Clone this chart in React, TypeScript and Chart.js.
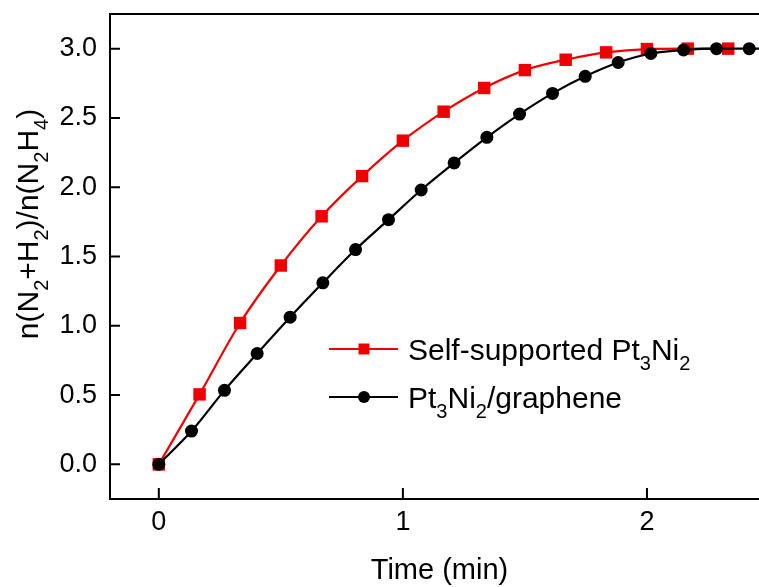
import React, { useEffect, useRef } from 'react';
import { Chart, registerables } from 'chart.js';

Chart.register(...registerables);

// ---- data ----
const redX = [0, 0.167, 0.333, 0.5, 0.667, 0.833, 1.0, 1.167, 1.333, 1.5, 1.667, 1.833, 2.0, 2.167, 2.333];
const redY = [0, 0.505, 1.02, 1.435, 1.79, 2.08, 2.336, 2.545, 2.716, 2.845, 2.92, 2.973, 2.997, 3.0, 3.0];

const blackX = [0, 0.134, 0.269, 0.403, 0.538, 0.672, 0.806, 0.941, 1.075, 1.21, 1.344, 1.478, 1.613, 1.747, 1.882, 2.016, 2.15, 2.285, 2.419, 2.553];
const blackY = [0, 0.24, 0.534, 0.8, 1.062, 1.31, 1.55, 1.766, 1.98, 2.175, 2.36, 2.528, 2.677, 2.8, 2.9, 2.965, 2.99, 3.0, 3.0, 3.0];

const xTicks = [0, 1, 2];
const yTicks = [0, 0.5, 1.0, 1.5, 2.0, 2.5, 3.0];

const xTitle = 'Time (min)';
// rich text: [text, isSubscript]
const yTitle: [string, boolean][] = [
  ['n(N', false], ['2', true], ['+H', false], ['2', true], [')/n(N', false], ['2', true], ['H', false], ['4', true], [')', false],
];
const redLabel: [string, boolean][] = [['Self-supported Pt', false], ['3', true], ['Ni', false], ['2', true]];
const blackLabel: [string, boolean][] = [['Pt', false], ['3', true], ['Ni', false], ['2', true], ['/graphene', false]];

const FONT = '"Liberation Sans", Arial, Helvetica, sans-serif';
const RED = '#ee0000';
const BLACK = '#000000';

function richWidth(ctx: CanvasRenderingContext2D, segs: [string, boolean][], size: number) {
  let w = 0;
  for (const [t, sub] of segs) {
    ctx.font = `${sub ? Math.round(size * 0.65) : size}px ${FONT}`;
    w += ctx.measureText(t).width;
  }
  return w;
}

function drawRich(ctx: CanvasRenderingContext2D, segs: [string, boolean][], x: number, y: number, size: number) {
  let cx = x;
  ctx.textBaseline = 'alphabetic';
  ctx.textAlign = 'left';
  for (const [t, sub] of segs) {
    ctx.font = `${sub ? Math.round(size * 0.65) : size}px ${FONT}`;
    ctx.fillText(t, cx, sub ? y + size * 0.33 : y);
    cx += ctx.measureText(t).width;
  }
}

const decor = {
  id: 'decor',
  afterDraw(chart: any) {
    const ctx: CanvasRenderingContext2D = chart.ctx;
    const { left, top, right, bottom } = chart.chartArea;
    const xs = chart.scales.x;
    const ys = chart.scales.y;
    ctx.save();
    ctx.strokeStyle = '#000';
    ctx.lineWidth = 2;
    ctx.beginPath();
    ctx.rect(left, top, right - left, bottom - top);
    for (const v of yTicks) {
      const y = ys.getPixelForValue(v);
      ctx.moveTo(left, y);
      ctx.lineTo(left + 10, y);
    }
    for (const v of xTicks) {
      const x = xs.getPixelForValue(v);
      ctx.moveTo(x, bottom);
      ctx.lineTo(x, bottom - 11);
    }
    ctx.stroke();

    ctx.fillStyle = '#000';
    // x title
    ctx.font = `29px ${FONT}`;
    ctx.textAlign = 'center';
    ctx.textBaseline = 'alphabetic';
    ctx.fillText(xTitle, (left + right) / 2, 579);

    // y title
    const ySize = 30;
    const yw = richWidth(ctx, yTitle, ySize);
    ctx.save();
    ctx.translate(38, 224);
    ctx.rotate(-Math.PI / 2);
    drawRich(ctx, yTitle, -yw / 2, 0, ySize);
    ctx.restore();

    // legend
    const lx0 = 329, lx1 = 398, mx = 364, tx = 408;
    const rows: { y: number; color: string; shape: string; label: [string, boolean][] }[] = [
      { y: 349, color: RED, shape: 'rect', label: redLabel },
      { y: 397, color: BLACK, shape: 'circle', label: blackLabel },
    ];
    for (const r of rows) {
      ctx.strokeStyle = r.color;
      ctx.fillStyle = r.color;
      ctx.lineWidth = 2;
      ctx.beginPath();
      ctx.moveTo(lx0, r.y);
      ctx.lineTo(lx1, r.y);
      ctx.stroke();
      ctx.beginPath();
      if (r.shape === 'rect') {
        ctx.rect(mx - 5.5, r.y - 5.5, 11, 11);
      } else {
        ctx.arc(mx, r.y, 6, 0, Math.PI * 2);
      }
      ctx.fill();
      ctx.fillStyle = '#000';
      drawRich(ctx, r.label, tx, r.y + 11, 30);
    }
    ctx.restore();
  },
};

export default function App() {
  const ref = useRef<HTMLCanvasElement | null>(null);
  useEffect(() => {
    if (!ref.current) return;
    const chart = new Chart(ref.current, {
      type: 'line',
      data: {
        datasets: [
          {
            label: 'Self-supported Pt3Ni2',
            data: redX.map((x, i) => ({ x, y: redY[i] })),
            borderColor: RED,
            backgroundColor: RED,
            borderWidth: 2.2,
            pointStyle: 'rect',
            pointRadius: 8.8,
            pointHoverRadius: 8.8,
            pointBorderWidth: 0,
            cubicInterpolationMode: 'monotone',
            order: 2,
          },
          {
            label: 'Pt3Ni2/graphene',
            data: blackX.map((x, i) => ({ x, y: blackY[i] })),
            borderColor: BLACK,
            backgroundColor: BLACK,
            borderWidth: 2.2,
            pointStyle: 'circle',
            pointRadius: 6.5,
            pointHoverRadius: 6.5,
            pointBorderWidth: 0,
            cubicInterpolationMode: 'monotone',
            order: 1,
          },
        ],
      },
      options: {
        animation: false,
        responsive: false,
        events: [],
        layout: { padding: { top: 14, right: 11, left: 0, bottom: 0 } },
        plugins: { legend: { display: false }, tooltip: { enabled: false } },
        scales: {
          x: {
            type: 'linear',
            min: -0.2,
            max: 2.5,
            grid: { display: false, drawTicks: false },
            border: { display: false },
            afterBuildTicks: (s: any) => { s.ticks = xTicks.map((v) => ({ value: v })); },
            afterFit: (s: any) => { s.height = 88; s.paddingLeft = 0; s.paddingRight = 0; },
            ticks: {
              color: '#000',
              font: { family: FONT, size: 27 },
              padding: 7,
              maxRotation: 0,
              callback: (v: any) => String(v),
            },
          },
          y: {
            type: 'linear',
            min: -0.25,
            max: 3.25,
            grid: { display: false, drawTicks: false },
            border: { display: false },
            afterBuildTicks: (s: any) => { s.ticks = yTicks.map((v) => ({ value: v })); },
            afterFit: (s: any) => { s.width = 110; s.paddingTop = 0; s.paddingBottom = 0; },
            ticks: {
              color: '#000',
              font: { family: FONT, size: 27 },
              padding: 13,
              callback: (v: any) => Number(v).toFixed(1),
            },
          },
        },
      } as any,
      plugins: [decor],
    });
    return () => chart.destroy();
  }, []);

  return (
    <div style={{ position: 'fixed', left: 0, top: 0, width: 759, height: 587, overflow: 'hidden', background: '#fff' }}>
      <canvas ref={ref} width={780} height={587} style={{ display: 'block', width: 780, height: 587 }} />
    </div>
  );
}
